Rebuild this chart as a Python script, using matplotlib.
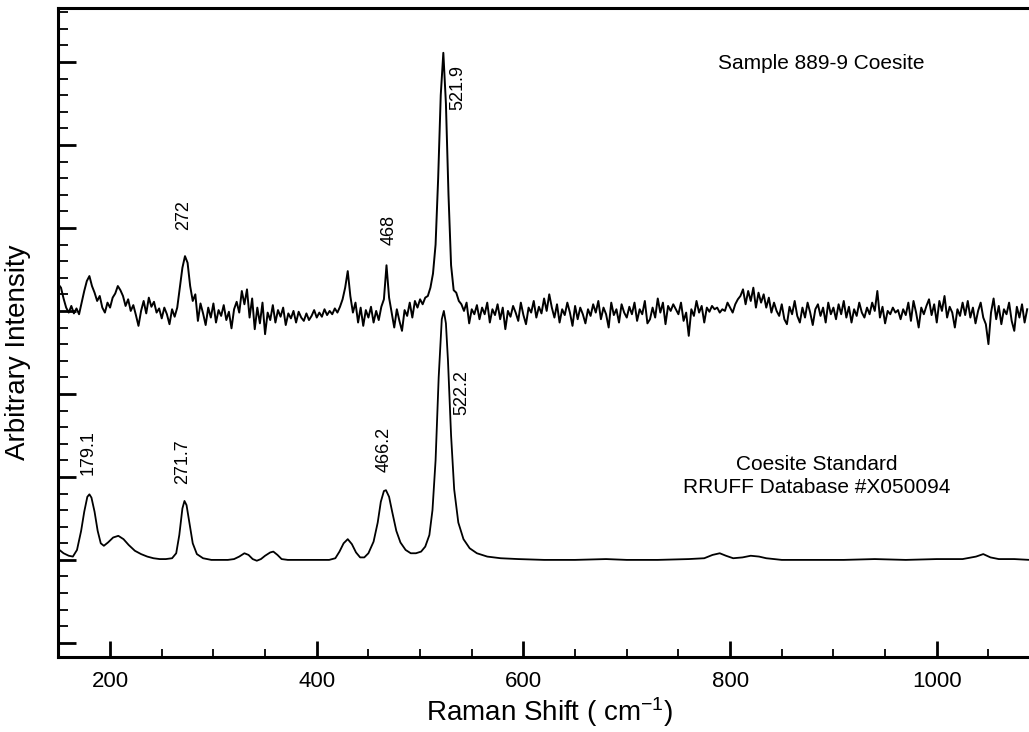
import numpy as np
import matplotlib
matplotlib.use('Agg')
import matplotlib.pyplot as plt
from matplotlib.ticker import MultipleLocator

plt.rcParams['font.family'] = ['Liberation Sans', 'DejaVu Sans']
plt.rcParams['mathtext.fontset'] = 'custom'
plt.rcParams['mathtext.rm'] = 'Liberation Sans'
plt.rcParams['mathtext.it'] = 'Liberation Sans:italic'

# sample 889-9, read every 2.5 cm-1 from 150 to 1087.5
sample_shift = np.arange(150, 1090, 2.5)
sample = [
    432, 428, 415, 404, 398, 406, 397, 403, 396, 410, 424, 436, 442, 430, 422, 412, 418, 404, 398, 410, 404, 416, 421, 430,
    425, 418, 406, 414, 400, 407, 395, 382, 400, 412, 397, 416, 405, 411, 398, 403, 391, 404, 396, 384, 402, 393, 404, 428,
    452, 466, 458, 430, 412, 420, 388, 409, 397, 383, 404, 392, 409, 386, 401, 394, 407, 389, 399, 379, 402, 411, 398, 424,
    408, 426, 392, 415, 378, 404, 385, 410, 372, 398, 389, 407, 386, 401, 393, 404, 383, 397, 391, 400, 386, 399, 392, 388,
    397, 389, 394, 401, 392, 398, 393, 402, 395, 400, 396, 403, 398, 405, 414, 428, 448, 418, 398, 410, 386, 404, 382, 401,
    392, 405, 386, 400, 389, 405, 414, 455, 416, 398, 380, 402, 388, 376, 401, 394, 410, 392, 412, 404, 414, 408, 416, 418,
    428, 445, 480, 560, 660, 711, 650, 540, 455, 425, 422, 412, 408, 400, 410, 385, 402, 396, 407, 390, 404, 396, 410, 386,
    402, 395, 408, 390, 404, 378, 400, 393, 406, 398, 388, 410, 395, 384, 404, 398, 412, 392, 405, 397, 415, 400, 420, 404,
    392, 408, 386, 402, 395, 410, 398, 382, 406, 390, 404, 396, 385, 402, 394, 408, 398, 412, 390, 404, 396, 380, 410, 395,
    402, 386, 408, 398, 392, 405, 396, 410, 388, 402, 396, 412, 385, 390, 404, 392, 415, 398, 410, 384, 406, 400, 408, 402,
    396, 410, 388, 398, 370, 402, 394, 412, 398, 406, 386, 404, 399, 406, 402, 404, 398, 402, 400, 410, 404, 398, 408, 414,
    418, 426, 408, 424, 412, 428, 404, 422, 410, 420, 404, 416, 398, 410, 400, 394, 408, 390, 384, 405, 396, 412, 394, 386,
    404, 392, 410, 398, 383, 402, 408, 394, 404, 386, 410, 396, 404, 390, 408, 396, 412, 392, 405, 386, 402, 394, 410, 398,
    392, 404, 396, 410, 400, 424, 392, 405, 385, 400, 396, 404, 398, 401, 390, 402, 395, 410, 388, 412, 398, 380, 404, 396,
    406, 414, 395, 408, 386, 412, 400, 418, 392, 405, 398, 380, 402, 394, 410, 395, 412, 392, 404, 385, 400, 410, 392, 384,
    360, 398, 415, 390, 406, 384, 402, 396, 410, 388, 376, 405, 392, 408, 386, 402,
]

# RRUFF coesite standard
std_shift = [
    150, 155, 160, 164, 168, 172, 175, 178, 180, 182,
    185, 188, 191, 194, 198, 203, 208, 213, 218, 224,
    230, 236, 242, 248, 254, 260, 264, 267, 270, 272,
    274, 277, 280, 284, 290, 298, 306, 314, 320, 325,
    330, 334, 338, 342, 346, 350, 355, 358, 362, 366,
    372, 385, 400, 412, 418, 422, 426, 430, 434, 438,
    442, 446, 450, 455, 459, 462, 465, 467, 470, 473,
    477, 481, 486, 491, 496, 501, 505, 509, 512, 515,
    518, 521, 523, 525, 527, 530, 533, 537, 542, 548,
    555, 565, 578, 595, 620, 650, 680, 700, 730, 760,
    775, 783, 790, 796, 803, 812, 820, 828, 835, 850,
    880, 910, 940, 970, 1000, 1025, 1038, 1045, 1052, 1060,
    1075, 1090,
]
standard = [
    113, 108, 105, 104, 112, 135, 158, 176, 179, 175,
    158, 135, 120, 117, 121, 127, 129, 125, 118, 111,
    107, 104, 102, 101, 101, 102, 108, 130, 162, 171,
    166, 143, 120, 107, 102, 100, 100, 100, 101, 104,
    108, 106, 101, 99, 101, 105, 109, 110, 106, 101,
    100, 100, 100, 100, 102, 110, 120, 125, 119, 109,
    103, 103, 108, 122, 145, 170, 183, 184, 176, 158,
    135, 121, 112, 108, 108, 110, 116, 130, 160, 220,
    320, 390, 400, 385, 340, 250, 185, 145, 125, 114,
    108, 104, 102, 101, 100, 100, 101, 100, 100, 101,
    102, 106, 108, 105, 102, 103, 105, 104, 102, 100,
    100, 100, 101, 100, 101, 101, 104, 107, 103, 101,
    101, 100,
]

# peak labels
sample_labels = ['272', '468', '521.9']
sample_label_x = [271.6, 469.8, 536.7]
sample_label_y = [498, 479, 642]
std_labels = ['179.1', '271.7', '466.2', '522.2']
std_label_x = [178.6, 270.6, 465, 540.6]
std_label_y = [202, 192, 206, 275]

fig = plt.figure(figsize=(10.29, 7.32), dpi=100)
ax = fig.add_axes([58.4 / 1029, 75 / 732, 981.7 / 1029, 649 / 732])

ax.plot(sample_shift, sample, color='black', lw=1.4)
ax.plot(std_shift, standard, color='black', lw=1.3)

for t, x, y in zip(sample_labels, sample_label_x, sample_label_y):
    ax.text(x, y, t, rotation=90, ha='center', va='bottom', fontsize=13)
for t, x, y in zip(std_labels, std_label_x, std_label_y):
    ax.text(x, y, t, rotation=90, ha='center', va='bottom', fontsize=13)

ax.text(888, 698, 'Sample 889-9 Coesite', ha='center', va='center', fontsize=15)
ax.text(884, 201, 'Coesite Standard\nRRUFF Database #X050094', ha='center', va='center',
        multialignment='center', fontsize=15, linespacing=1.3)

ax.set_xlim(150, 1100)
ax.set_ylim(-17, 765)
ax.xaxis.set_major_locator(MultipleLocator(200))
ax.xaxis.set_minor_locator(MultipleLocator(50))
ax.yaxis.set_major_locator(MultipleLocator(100))
ax.yaxis.set_minor_locator(MultipleLocator(20))

ax.tick_params(axis='x', which='major', direction='in', length=11.5, width=2, labelsize=16, pad=10)
ax.tick_params(axis='x', which='minor', direction='in', length=6, width=1.3)
ax.tick_params(axis='y', which='major', direction='in', length=13, width=2, labelleft=False)
ax.tick_params(axis='y', which='minor', direction='in', length=7, width=1.3)

for s in ax.spines.values():
    s.set_linewidth(2.2)

fig.text(550 / 1029, 1 - 712 / 732, 'Raman Shift ( cm$^{-1}$)', ha='center', va='center', fontsize=20)
fig.text(18 / 1029, 1 - 352 / 732, 'Arbitrary Intensity', ha='center', va='center',
         rotation=90, fontsize=20)

fig.savefig('out.png', dpi=100)
